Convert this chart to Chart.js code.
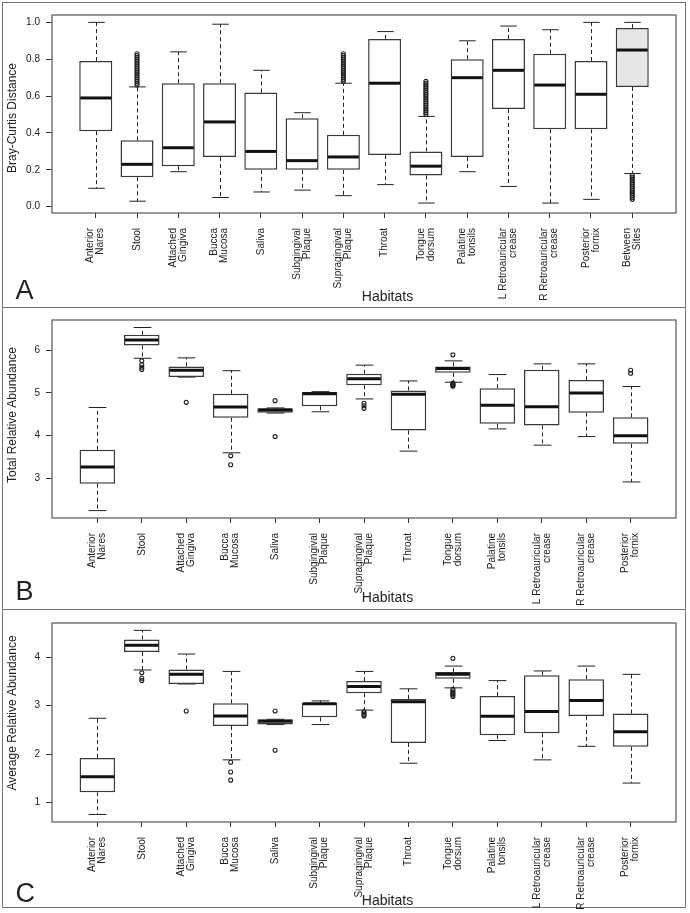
<!DOCTYPE html>
<html>
<head>
<meta charset="utf-8">
<script src="https://cdn.jsdelivr.net/npm/chart.js@4.4.1/dist/chart.umd.min.js"></script>
<style>
  body { margin: 0; background: #fff; width: 690px; height: 913px; position: relative; overflow: hidden; }
  .frame { position: absolute; left: 2px; width: 684px; box-sizing: border-box; border: 1.5px solid #777; }
  canvas { position: absolute; left: 0; }
</style>
</head>
<body>
<div class="frame" style="top:2px;height:306px"></div>
<div class="frame" style="top:308px;height:302px;border-top:0"></div>
<div class="frame" style="top:610px;height:298px;border-top:0"></div>
<canvas id="chartA" width="690" height="308" style="top:0"></canvas>
<canvas id="chartB" width="690" height="301" style="top:308px"></canvas>
<canvas id="chartC" width="690" height="304" style="top:609px"></canvas>
<script>
// Painel A - distancia Bray-Curtis por habitat
const catsA = ['Anterior\nNares', 'Stool', 'Attached\nGingiva', 'Bucca\nMucosa', 'Saliva', 'Subgingival\nPlaque',
  'Supragingival\nPlaque', 'Throat', 'Tongue\ndorsum', 'Palatine\ntonsils', 'L Retroauricular\ncrease',
  'R Retroauricular\ncrease', 'Posterior\nfornix', 'Between\nSites'];
const lowA  = [0.10, 0.03, 0.19, 0.05, 0.08, 0.09, 0.06, 0.12, 0.02, 0.19, 0.11, 0.02, 0.04, 0.18];
const q1A   = [0.41, 0.16, 0.22, 0.27, 0.20, 0.20, 0.20, 0.28, 0.17, 0.27, 0.53, 0.42, 0.42, 0.65];
const medA  = [0.59, 0.23, 0.32, 0.46, 0.30, 0.25, 0.27, 0.67, 0.22, 0.70, 0.74, 0.66, 0.61, 0.85];
const q3A   = [0.79, 0.36, 0.67, 0.67, 0.62, 0.48, 0.39, 0.91, 0.30, 0.80, 0.91, 0.83, 0.79, 0.97];
const highA = [1.00, 0.65, 0.84, 0.99, 0.74, 0.51, 0.67, 0.95, 0.49, 0.90, 0.98, 0.96, 1.00, 1.00];
const outA = [
  [],
  [0.66, 0.67, 0.68, 0.69, 0.70, 0.71, 0.72, 0.73, 0.74, 0.75, 0.76, 0.77, 0.78, 0.79, 0.80, 0.81, 0.82, 0.83],
  [], [], [], [],
  [0.68, 0.69, 0.70, 0.71, 0.72, 0.73, 0.74, 0.75, 0.76, 0.77, 0.78, 0.79, 0.80, 0.81, 0.82, 0.83],
  [],
  [0.50, 0.51, 0.52, 0.53, 0.54, 0.55, 0.56, 0.57, 0.58, 0.59, 0.60, 0.61, 0.62, 0.63, 0.64, 0.65, 0.66, 0.67, 0.68],
  [], [], [], [],
  [0.04, 0.05, 0.06, 0.07, 0.08, 0.09, 0.10, 0.11, 0.12, 0.13, 0.14, 0.15, 0.16, 0.17]
];
const ticksA = [0, 0.2, 0.4, 0.6, 0.8, 1.0];

// Painel B - abundancia relativa total
const catsB = catsA.slice(0, 13);
const lowB  = [2.25, 5.81, 5.37, 3.60, 4.53, 4.56, 4.86, 3.64, 5.25, 4.16, 3.78, 3.98, 2.92];
const q1B   = [2.88, 6.11, 5.37, 4.42, 4.54, 4.69, 5.18, 4.12, 5.47, 4.28, 4.24, 4.54, 3.81];
const medB  = [3.27, 6.24, 5.53, 4.67, 4.60, 4.98, 5.33, 4.97, 5.57, 4.71, 4.68, 5.00, 4.00];
const q3B   = [3.67, 6.36, 5.62, 4.98, 4.64, 5.02, 5.45, 5.06, 5.62, 5.11, 5.54, 5.30, 4.43];
const highB = [4.66, 6.53, 5.82, 5.52, 4.65, 5.03, 5.65, 5.28, 5.75, 5.43, 5.68, 5.68, 5.15];
const outB = [[], [5.75, 5.66, 5.60, 5.55], [4.78], [3.53, 3.32], [4.82, 3.98], [], [4.76, 4.70, 4.64], [],
  [5.89, 5.23, 5.21, 5.19, 5.17, 5.16], [], [], [], [5.53, 5.46]];
const ticksB = [3, 4, 5, 6];

// Painel C - abundancia relativa media
const catsC = catsA.slice(0, 13);
const lowC  = [0.75, 3.74, 3.45, 1.88, 2.61, 2.61, 2.91, 1.81, 3.37, 2.28, 1.88, 2.16, 1.40];
const q1C   = [1.21, 4.11, 3.45, 2.58, 2.61, 2.76, 3.26, 2.23, 3.56, 2.39, 2.43, 2.79, 2.15];
const medC  = [1.53, 4.25, 3.65, 2.79, 2.68, 3.04, 3.40, 3.08, 3.65, 2.78, 2.88, 3.11, 2.46];
const q3C   = [1.92, 4.37, 3.75, 3.05, 2.72, 3.06, 3.51, 3.14, 3.70, 3.20, 3.63, 3.55, 2.84];
const highC = [2.74, 4.56, 4.07, 3.71, 2.72, 3.10, 3.71, 3.35, 3.82, 3.52, 3.72, 3.82, 3.65];
const outC = [[], [3.68, 3.57, 3.52], [2.89], [1.83, 1.63, 1.46], [2.89, 2.08], [], [2.88, 2.85, 2.82, 2.79], [],
  [3.98, 3.34, 3.31, 3.28, 3.25, 3.22, 3.19], [], [], [], []];
const ticksC = [1, 2, 3, 4];

const FONT = 'Liberation Sans, Arial, sans-serif';

function buildPanel(id, p) {
  const n = p.cats.length;
  const ctx = document.getElementById(id).getContext('2d');

  // whiskers, medianas, moldura, rotulos e titulos
  const boxPlugin = {
    id: 'boxplot_' + id,
    beforeDatasetsDraw(chart) {
      const xs = chart.scales.x, ys = chart.scales.y, c = chart.ctx;
      c.save();
      c.strokeStyle = '#222';
      c.lineWidth = 1;
      for (let i = 0; i < n; i++) {
        const x = Math.round(xs.getPixelForValue(i)) + 0.5;
        const hw = xs.getPixelForValue(i + 0.2) - xs.getPixelForValue(i);
        c.setLineDash([4, 3]);
        c.beginPath();
        c.moveTo(x, ys.getPixelForValue(p.q3[i]));
        c.lineTo(x, ys.getPixelForValue(p.high[i]));
        c.moveTo(x, ys.getPixelForValue(p.q1[i]));
        c.lineTo(x, ys.getPixelForValue(p.low[i]));
        c.stroke();
        c.setLineDash([]);
        c.beginPath();
        c.moveTo(x - hw, ys.getPixelForValue(p.high[i]));
        c.lineTo(x + hw, ys.getPixelForValue(p.high[i]));
        c.moveTo(x - hw, ys.getPixelForValue(p.low[i]));
        c.lineTo(x + hw, ys.getPixelForValue(p.low[i]));
        c.stroke();
      }
      c.restore();
    },
    afterDatasetsDraw(chart) {
      const xs = chart.scales.x, ys = chart.scales.y, c = chart.ctx;
      c.save();
      c.strokeStyle = '#111';
      c.lineWidth = 3;
      for (let i = 0; i < n; i++) {
        const x0 = xs.getPixelForValue(i - 0.4), x1 = xs.getPixelForValue(i + 0.4);
        const y = ys.getPixelForValue(p.med[i]);
        c.beginPath();
        c.moveTo(x0 + 1, y);
        c.lineTo(x1 - 1, y);
        c.stroke();
      }
      c.restore();
    },
    afterDraw(chart) {
      const a = chart.chartArea, c = chart.ctx, xs = chart.scales.x;
      c.save();
      c.strokeStyle = '#555';
      c.lineWidth = 1.2;
      c.strokeRect(a.left, a.top, a.right - a.left, a.bottom - a.top);
      c.fillStyle = '#222';

      // rotulos das categorias, verticais e centrados no tick
      c.font = '10px ' + FONT;
      c.textAlign = 'right';
      c.textBaseline = 'middle';
      p.cats.forEach((label, i) => {
        const lines = label.split('\n');
        const x = xs.getPixelForValue(i);
        lines.forEach((ln, j) => {
          c.save();
          c.translate(x + (j - (lines.length - 1) / 2) * 10, a.bottom + 15);
          c.rotate(-Math.PI / 2);
          c.fillText(ln, 0, 0);
          c.restore();
        });
      });

      // titulo eixo y
      c.font = '12px ' + FONT;
      c.textAlign = 'center';
      c.translate(12.5, p.yTitleY);
      c.rotate(-Math.PI / 2);
      c.fillText(p.yTitle, 0, 0);
      c.setTransform(1, 0, 0, 1, 0, 0);
      c.textBaseline = 'alphabetic';
      c.font = '14px ' + FONT;
      c.fillText('Habitats', 387.5, p.habY);
      c.textAlign = 'left';
      c.font = '27px ' + FONT;
      c.fillText(p.letter, 15.5, p.letterY);
      c.restore();
    }
  };

  const boxData = p.cats.map((c, i) => ({ x: i, y: [p.q1[i], p.q3[i]] }));
  const outData = [];
  p.out.forEach((vals, i) => vals.forEach(v => outData.push({ x: i, y: v })));

  new Chart(ctx, {
    type: 'bar',
    data: {
      datasets: [{
        data: boxData,
        backgroundColor: p.cats.map((c, i) => (p.shaded === i ? '#e6e6e6' : '#ffffff')),
        borderColor: '#3a3a3a',
        borderWidth: 1.5,
        borderSkipped: false,
        barPercentage: 0.8,
        categoryPercentage: 1
      }, {
        type: 'scatter',
        data: outData,
        pointRadius: 2,
        pointBorderWidth: 1.1,
        pointBorderColor: '#222',
        pointBackgroundColor: 'rgba(255,255,255,0)'
      }]
    },
    options: {
      responsive: false,
      animation: false,
      layout: { padding: { left: 0, right: 14, top: p.top, bottom: 0 } },
      plugins: { legend: { display: false }, tooltip: { enabled: false } },
      scales: {
        x: {
          type: 'linear',
          min: -0.5 - 0.04 * n,
          max: n - 0.5 + 0.04 * n,
          offset: false,
          afterBuildTicks: s => { s.ticks = p.cats.map((c, i) => ({ value: i })); },
          afterFit: s => { s.height = p.xHeight; },
          grid: { drawOnChartArea: false, drawTicks: true, tickLength: 5, color: '#333', offset: false },
          border: { display: false },
          ticks: { display: false }
        },
        y: {
          type: 'linear',
          min: p.yMin,
          max: p.yMax,
          beginAtZero: false,
          afterBuildTicks: s => { s.ticks = p.ticks.map(v => ({ value: v })); },
          afterFit: s => { s.width = 52; },
          grid: { drawOnChartArea: false, drawTicks: true, tickLength: 6, color: '#333' },
          border: { display: false },
          ticks: {
            padding: 6, color: '#222',
            font: { family: FONT, size: 10 },
            callback: v => v.toFixed(p.dec)
          }
        }
      }
    },
    plugins: [boxPlugin]
  });
}

buildPanel('chartA', {
  cats: catsA, low: lowA, q1: q1A, med: medA, q3: q3A, high: highA, out: outA, ticks: ticksA,
  yMin: -0.034, yMax: 1.04, dec: 1, yTitle: 'Bray-Curtis Distance', letter: 'A', shaded: 13,
  top: 15, xHeight: 95, yTitleY: 118, habY: 301, letterY: 299
});
buildPanel('chartB', {
  cats: catsB, low: lowB, q1: q1B, med: medB, q3: q3B, high: highB, out: outB, ticks: ticksB,
  yMin: 2.077, yMax: 6.705, dec: 0, yTitle: 'Total Relative Abundance', letter: 'B', shaded: -1,
  top: 11, xHeight: 91, yTitleY: 107, habY: 294, letterY: 292
});
buildPanel('chartC', {
  cats: catsC, low: lowC, q1: q1C, med: medC, q3: q3C, high: highC, out: outC, ticks: ticksC,
  yMin: 0.594, yMax: 4.712, dec: 0, yTitle: 'Average Relative Abundance', letter: 'C', shaded: -1,
  top: 14, xHeight: 91, yTitleY: 104, habY: 296, letterY: 293
});
</script>
</body>
</html>
